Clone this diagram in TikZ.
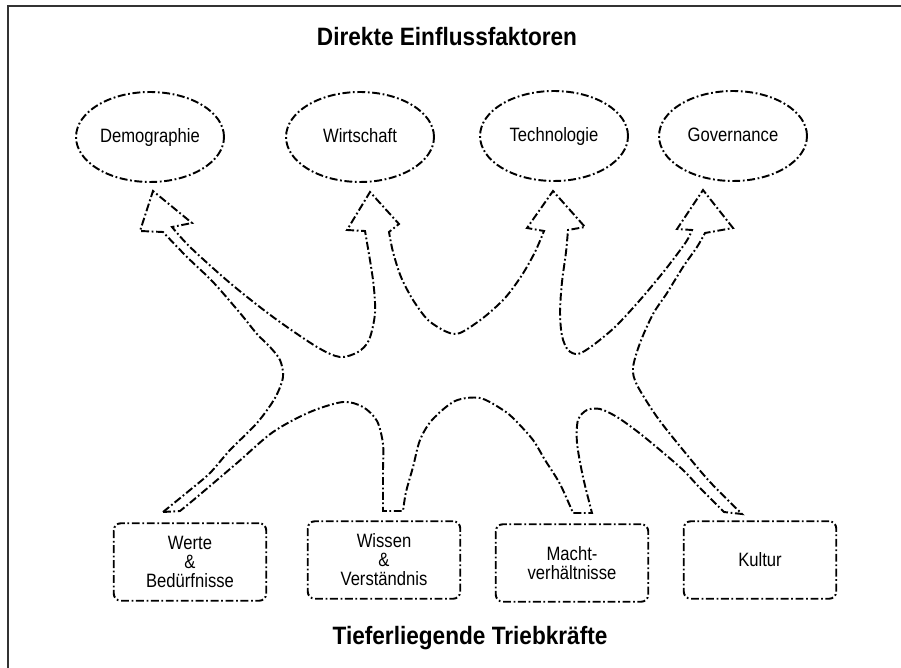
\documentclass[tikz,border=0pt]{standalone}
\usepackage{fontspec}
\setmainfont{Liberation Sans}[FakeStretch=0.86]
\newfontfamily\headfont{Liberation Sans}[FakeStretch=0.9]
\usetikzlibrary{shapes.geometric}

\begin{document}
\begin{tikzpicture}[x=0.02cm,y=-0.02cm,
  dd/.style={line width=1.1pt,dash pattern=on 4.5pt off 1.5pt on 1pt off 1.5pt},
  faktor/.style={dd,draw,ellipse,inner sep=0pt,text height=8.5pt,text depth=1.7pt,minimum width=2.96cm,minimum height=1.8cm},
  kraft/.style={dd,draw,rounded corners=4pt,minimum width=3.05cm,minimum height=1.55cm,align=center},
  titel/.style={font=\headfont\bfseries\fontsize{14.3}{17}\selectfont},
  every node/.append style={font=\fontsize{11}{10.8}\selectfont}]
\useasboundingbox (0,0) rectangle (901,668);
\draw[line width=1.2pt,black!80] (8,668) -- (8,6) -- (901,6);

% direkte Einflussfaktoren
\node[titel] (oben) at (447,37) {Direkte Einflussfaktoren};
\node[faktor] (demo) at (150,137) {Demographie};
\node[faktor] (wirt) at (360,137) {Wirtschaft};
\node[faktor] (tech) at (554,136) {Technologie};
\node[faktor] (gov) at (733,136) {Governance};

% tieferliegende Triebkraefte
\node[kraft] (werte) at (190,562) {Werte\\\&\\Bedürfnisse};
\node[kraft] (wissen) at (384,560) {Wissen\\\&\\Verständnis};
\node[kraft] (macht) at (572,563) {Macht-\\verhältnisse};
\node[kraft] (kultur) at (760,560) {Kultur};
\node[titel,anchor=base] (unten) at (470,644) {Tieferliegende Triebkräfte};

% der grosse Pfeil
\draw[dd]
  plot[smooth] coordinates {(163,512) (190,490) (210,473) (230,450) (257,423) (275,398) (283,377) (280,360) (270,347) (257,334) (240,313) (213,282) (187,257) (163,232)}
  -- (140,231) -- (153,191) -- (192,223) -- (172,227)
  -- plot[smooth] coordinates {(172,227) (190,247) (230,283) (273,317) (317,347) (340,357) (358,352) (369,340) (375,313) (373,280) (365,231)}
  -- (347,230) -- (370,192) -- (399,224) -- (389,232)
  -- plot[smooth] coordinates {(389,232) (393,252) (401,277) (413,300) (428,320) (447,332) (460,333) (483,318) (505,298) (522,275) (535,252) (544,231)}
  -- (527,228) -- (553,191) -- (585,227) -- (568,230)
  -- plot[smooth] coordinates {(568,230) (566,252) (562,282) (560,312) (562,336) (568,350) (578,354) (592,346) (615,327) (640,300) (665,270) (686,242) (692,230)}
  -- (677,229) -- (703,190) -- (733,228) -- (705,233)
  -- plot[smooth] coordinates {(705,233) (697,247) (683,267) (667,293) (653,314) (640,343) (633,368) (637,385) (657,417) (683,450) (710,482) (742,514)}
  -- (724,512)
  -- plot[smooth] coordinates {(724,512) (700,488) (683,470) (660,450) (638,432) (617,417) (600,409) (587,410) (578,420) (577,443) (583,477) (592,513)}
  -- (573,513)
  -- plot[smooth] coordinates {(573,513) (560,484) (545,460) (533,440) (515,420) (503,410) (480,398) (455,401) (432,420) (420,440) (413,467) (406,492) (403,511)}
  -- (383,511)
  -- plot[smooth] coordinates {(383,511) (383,494) (383,470) (383,444) (377,421) (363,407) (343,402) (310,412) (273,432) (237,463) (197,497) (180,511)}
  -- cycle;
\end{tikzpicture}
\end{document}
